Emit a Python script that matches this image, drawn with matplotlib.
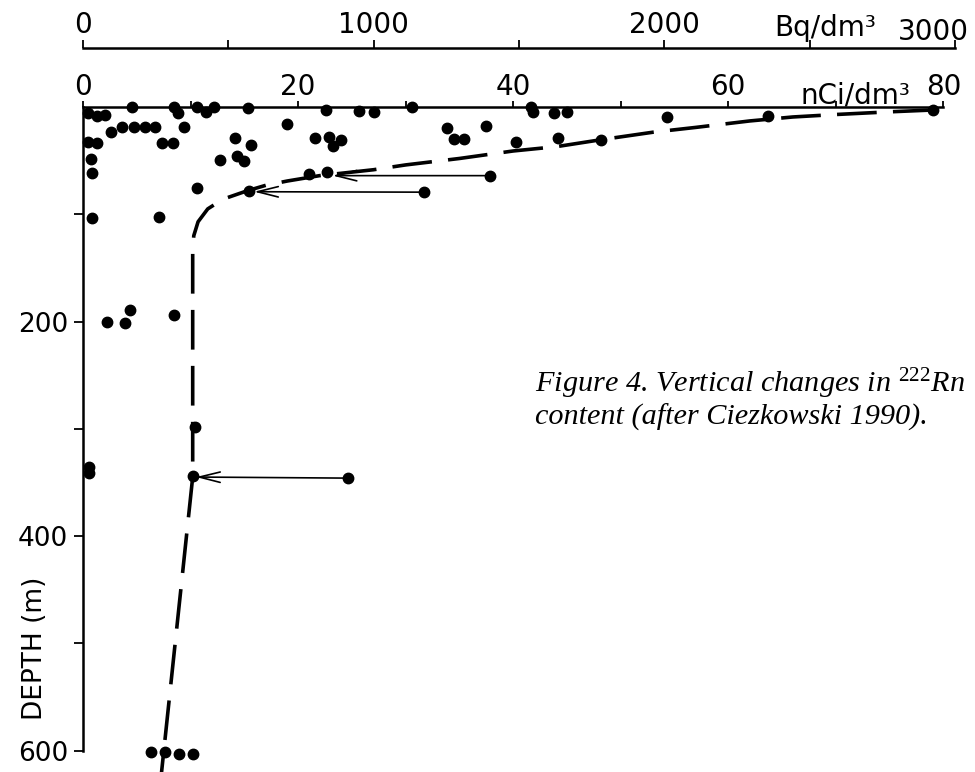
import matplotlib.pyplot as plt
from matplotlib.transforms import ScaledTranslation, blended_transform_factory

plt.rcParams["font.family"] = "DejaVu Sans"
plt.rcParams["mathtext.fontset"] = "custom"
plt.rcParams["mathtext.rm"] = "Liberation Serif"
plt.rcParams["mathtext.default"] = "rm"

BQ_PER_NCI = 37.0

# 222Rn samples: content (nCi/dm3) and depth (m)
rn_nci = [
    0.5, 1.3, 2.0, 4.6, 8.5, 8.8, 10.6, 11.4, 12.2, 15.3, 22.6, 25.7, 27.1, 30.6,
    41.7, 41.8, 43.8, 45.0, 54.3, 63.7, 79.0,
    2.6, 3.6, 4.7, 5.8, 6.7, 9.4, 19.0,
    0.5, 1.3, 7.3, 8.4, 14.1, 15.6, 21.6, 22.9, 23.2, 24.0,
    33.8, 34.5, 35.4, 37.5, 40.3, 44.2, 48.2,
    0.7, 12.7, 14.3, 15.0, 0.8, 21.0, 22.7, 37.8,
    10.6, 15.4, 31.7, 0.8, 7.1,
    2.2, 3.9, 4.4, 8.5, 10.4, 0.6, 0.6, 10.2, 24.6,
    6.3, 7.6, 8.9, 10.2,
]
rn_depth = [
    5.5, 8.0, 7.5, 0.0, 0.0, 5.5, 0.0, 4.5, 0.0, 0.5, 3.0, 3.5, 4.2, 0.0,
    0.0, 5.0, 5.6, 4.6, 9.3, 8.6, 2.6,
    23.0, 18.5, 18.5, 18.5, 18.5, 18.5, 16.0,
    32.5, 33.5, 33.5, 33.5, 28.5, 35.0, 29.0, 28.0, 36.3, 30.6,
    19.6, 29.7, 29.6, 17.4, 33.0, 29.0, 30.4,
    48.5, 49.3, 45.4, 50.0, 61.5, 62.6, 60.6, 64.0,
    75.6, 78.2, 79.4, 103.5, 102.6,
    200, 201, 189, 194, 298, 336, 341, 344, 346,
    601, 601, 603, 603,
]

# hand-drawn trend line (dashed)
trend_nci = [79.0, 75.0, 70.0, 66.0, 62.0, 57.0, 53.0, 48.3, 44.0, 40.0, 35.0,
             30.0, 27.0, 22.0, 19.0, 17.0, 15.3, 13.0, 11.6, 10.7, 10.3, 10.2,
             10.2, 7.2]
trend_depth = [2.8, 4.5, 7.0, 9.3, 13.0, 19.0, 23.5, 30.3, 37.0, 41.0, 48.0,
               54.0, 58.5, 64.0, 69.0, 73.0, 78.0, 86.0, 95.0, 107.0, 120.0,
               135.0, 345.0, 630.0]

# arrows between samples
arrow_from_nci = [37.8, 31.7, 24.6]
arrow_from_depth = [64.0, 79.4, 346.0]
arrow_to_nci = [23.2, 15.9, 10.5]
arrow_to_depth = [64.0, 79.0, 345.0]

nci_ticks = [0, 20, 40, 60, 80]
nci_minor = [10, 30, 50, 70]
bq_ticks = [0, 1000, 2000, 3000]
bq_minor = [500, 1500, 2500]
depth_ticks = [200, 400, 600]
depth_minor = [100, 300, 500]

W, H = 975, 772
fig = plt.figure(figsize=(W / 100, H / 100), dpi=100)
fig.patch.set_facecolor("white")

x_left, x_right, y_top = 83, 955, 107
ax = fig.add_axes([x_left / W, 0, (x_right - x_left) / W, (H - y_top) / H])
ax.set_xlim(0, 3000 / BQ_PER_NCI)
ax.set_ylim(620, 0)
ax.patch.set_alpha(0)

for side in ["right", "bottom"]:
    ax.spines[side].set_visible(False)
ax.spines["top"].set_bounds(0, 80)
ax.spines["left"].set_bounds(0, 600)
for side in ["top", "left"]:
    ax.spines[side].set_linewidth(1.8)

ax.xaxis.tick_top()
ax.set_xticks(nci_ticks)
ax.set_xticks(nci_minor, minor=True)
ax.set_yticks(depth_ticks)
ax.set_yticks(depth_minor, minor=True)
ax.tick_params(axis="x", which="both", direction="out", length=4.5,
               width=1.3, pad=0, labelsize=20)
ax.tick_params(axis="y", which="both", direction="out", length=6.5,
               width=1.3, pad=4, labelsize=19)

# Bq/dm3 scale above the nCi/dm3 scale
sec = ax.secondary_xaxis(1.088, functions=(lambda x: x * BQ_PER_NCI,
                                           lambda b: b / BQ_PER_NCI))
sec.set_xticks(bq_ticks)
sec.set_xticks(bq_minor, minor=True)
sec.spines["top"].set_bounds(0, 3000)
sec.spines["top"].set_linewidth(1.8)
sec.tick_params(axis="x", which="both", direction="out", length=5.5,
                width=1.3, pad=1, labelsize=20)
# last label sits left of and below its tick in the original
last = sec.get_xticklabels()[-1]
last.set_transform(last.get_transform()
                   + ScaledTranslation(-0.22, -0.07, fig.dpi_scale_trans))

# trend line and samples
ax.plot(trend_nci, trend_depth, color="black", lw=2.6,
        linestyle=(0, (11, 4.5)), solid_capstyle="butt")
ax.plot(rn_nci, rn_depth, "o", color="black", ms=7.5, clip_on=False)

for xs, ys, xe, ye in zip(arrow_from_nci, arrow_from_depth,
                          arrow_to_nci, arrow_to_depth):
    ax.annotate("", xy=(xe, ye), xytext=(xs, ys),
                arrowprops=dict(arrowstyle="->,head_length=1.0,head_width=0.25",
                                mutation_scale=15, lw=1.2, color="black",
                                shrinkA=0, shrinkB=0))

# unit labels
trans = blended_transform_factory(ax.transData, fig.transFigure)
ax.text(71.8, 1 - 95 / H, "nCi/dm³", transform=trans, ha="center",
        va="center", fontsize=20)
ax.text(69.0, 1 - 28 / H, "Bq/dm³", transform=trans, ha="center",
        va="center", fontsize=20)

fig.text(35 / W, 1 - 648 / H, "DEPTH (m)", rotation=90, ha="center",
         va="center", fontsize=19)

cap = dict(family="Liberation Serif", style="italic", fontsize=21.8,
           ha="left", va="baseline")
fig.text(535 / W, 1 - 392 / H, "Figure 4. Vertical changes in $^{222}$Rn", **cap)
fig.text(535 / W, 1 - 425 / H, "content (after Ciezkowski 1990).", **cap)

fig.savefig("out.png", dpi=100)
